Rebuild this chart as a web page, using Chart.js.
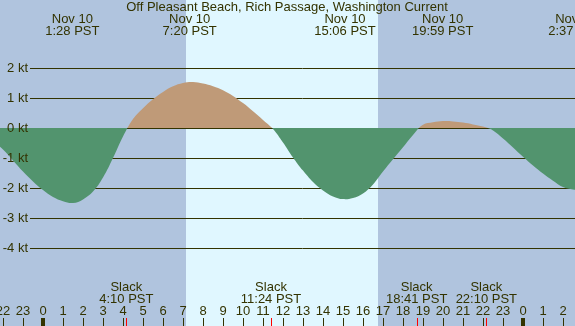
<!DOCTYPE html>
<html lang="en">
<head>
<meta charset="UTF-8">
<title>Off Pleasant Beach, Rich Passage, Washington Current</title>
<script src="https://cdn.jsdelivr.net/npm/chart.js"></script>
<style>
  html, body { margin: 0; padding: 0; background: #b0c4de; }
  canvas { display: block; }
</style>
</head>
<body>
<canvas id="currentChart" width="575" height="326"></canvas>
<script>
// hours since midnight Nov 10 (local PST), current speed in knots
const hours = [-2.5, -2, -1.5, -1, -0.5, 0, 0.5, 1, 1.5, 2, 2.5, 3, 3.5, 4, 4.5, 5, 5.5, 6, 6.5, 7, 7.5, 8,
  8.5, 9, 9.5, 10, 10.5, 11, 11.5, 12, 12.5, 13, 13.5, 14, 14.5, 15, 15.5, 16, 16.5, 17, 17.5, 18, 18.5,
  19, 19.5, 20, 20.5, 21, 21.5, 22, 22.5, 23, 23.5, 24, 24.5, 25, 25.5, 26, 26.5, 27];
const knots = [-0.42, -0.72, -1.08, -1.45, -1.78, -2.07, -2.3, -2.44, -2.5, -2.38, -2.12, -1.65, -1.0, -0.28, 0.3, 0.66, 0.96, 1.2, 1.39, 1.5, 1.53, 1.48,
  1.39, 1.26, 1.07, 0.83, 0.56, 0.27, -0.03, -0.48, -0.98, -1.42, -1.8, -2.08, -2.28, -2.37, -2.33, -2.18, -1.88, -1.45, -1.04, -0.64, -0.23,
  0.11, 0.19, 0.23, 0.22, 0.18, 0.12, 0.05, -0.08, -0.35, -0.65, -0.96, -1.25, -1.52, -1.76, -1.97, -2.05, -2.08];

const kLevels = [2, 1, 0, -1, -2, -3, -4];
const hourTicks = [-2, -1, 0, 1, 2, 3, 4, 5, 6, 7, 8, 9, 10, 11, 12, 13, 14, 15, 16, 17, 18, 19, 20, 21, 22, 23, 24, 25, 26];
const tickLabels = ['22', '23', '0', '1', '2', '3', '4', '5', '6', '7', '8', '9', '10', '11', '12', '13', '14', '15', '16', '17', '18', '19', '20', '21', '22', '23', '0', '1', '2'];

// max flood / ebb
const peakHours = [1.467, 7.333, 15.1, 19.983, 26.617];
const peakDates = ['Nov 10', 'Nov 10', 'Nov 10', 'Nov 10', 'Nov 11'];
const peakTimes = ['1:28 PST', '7:20 PST', '15:06 PST', '19:59 PST', '2:37 PST'];

// slack water
const slackHours = [4.167, 11.4, 18.683, 22.167];
const slackTimes = ['4:10 PST', '11:24 PST', '18:41 PST', '22:10 PST'];

// daylight
const sunrise = 7.15;
const sunset = 16.75;

const title = 'Off Pleasant Beach, Rich Passage, Washington Current';

const textColor = '#333300';
const FONT = '13px "Liberation Sans", Arial, sans-serif';

const tidePlugin = {
  id: 'tide',
  beforeDraw(chart) {
    const { ctx, chartArea: a, scales: { x } } = chart;
    ctx.save();
    ctx.fillStyle = '#b0c4de';
    ctx.fillRect(a.left, a.top, a.right - a.left, a.bottom - a.top);
    const x0 = x.getPixelForValue(sunrise), x1 = x.getPixelForValue(sunset);
    ctx.fillStyle = '#e0f7ff';
    ctx.fillRect(x0, a.top, x1 - x0, a.bottom - a.top);
    ctx.restore();
  },
  beforeDatasetsDraw(chart) {
    const { ctx, chartArea: a, scales: { y } } = chart;
    ctx.save();
    ctx.strokeStyle = textColor;
    ctx.lineWidth = 1;
    kLevels.forEach(k => {
      const py = Math.round(y.getPixelForValue(k)) + 0.5;
      ctx.beginPath();
      ctx.moveTo(30, py);
      ctx.lineTo(a.right, py);
      ctx.stroke();
    });
    ctx.restore();
  },
  afterDatasetsDraw(chart) {
    const { ctx, chartArea: a, scales: { x, y } } = chart;
    ctx.save();
    ctx.fillStyle = textColor;
    ctx.font = FONT;
    ctx.textBaseline = 'middle';

    // y labels
    ctx.textAlign = 'right';
    kLevels.forEach(k => ctx.fillText(k + ' kt', 28, y.getPixelForValue(k)));

    ctx.textAlign = 'center';
    ctx.fillText(title, 287, 7);

    peakHours.forEach((h, i) => {
      const px = x.getPixelForValue(h);
      ctx.fillText(peakDates[i], px, 19);
      ctx.fillText(peakTimes[i], px, 31);
    });

    slackHours.forEach((h, i) => {
      const px = x.getPixelForValue(h);
      ctx.fillText('Slack', px, 287);
      ctx.fillText(slackTimes[i], px, 299);
    });

    // hour ticks
    hourTicks.forEach((h, i) => {
      const px = x.getPixelForValue(h);
      ctx.fillText(tickLabels[i], px, 311);
      if (h % 24 === 0) {
        ctx.fillRect(Math.round(px) - 2, 318, 4, a.bottom - 318);
      } else {
        ctx.fillRect(Math.round(px), 318, 1, a.bottom - 318);
      }
    });
    ctx.fillStyle = '#ff0000';
    slackHours.forEach(h => {
      ctx.fillRect(Math.round(x.getPixelForValue(h)), 318, 1, a.bottom - 318);
    });
    ctx.restore();
  }
};

new Chart(document.getElementById('currentChart'), {
  type: 'line',
  data: {
    datasets: [{
      data: hours.map((h, i) => ({ x: h, y: knots[i] })),
      borderWidth: 0,
      borderColor: 'rgba(0,0,0,0)',
      pointRadius: 0,
      tension: 0.4,
      fill: { target: { value: 0 }, above: '#bf9a78', below: '#52946e' }
    }]
  },
  options: {
    responsive: false,
    devicePixelRatio: 1,
    animation: false,
    layout: { padding: 0 },
    plugins: { legend: { display: false }, tooltip: { enabled: false } },
    scales: {
      x: { type: 'linear', min: -2.15, max: 26.6, display: false },
      y: { min: -6.6, max: 4.267, display: false }
    }
  },
  plugins: [tidePlugin]
});
</script>
</body>
</html>
